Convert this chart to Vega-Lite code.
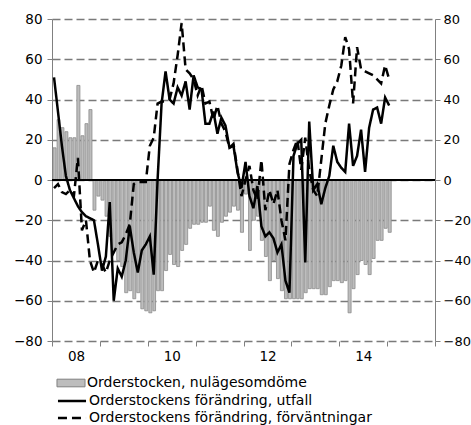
{
  "$schema": "https://vega.github.io/schema/vega-lite/v6.json",
  "width": 383,
  "height": 322,
  "autosize": "none",
  "padding": {"left": 52, "top": 19, "right": 36, "bottom": 84},
  "background": "white",
  "config": {
    "view": {"stroke": null},
    "axis": {"labelFont": "DejaVu Sans", "labelFontSize": 13.5, "labelColor": "black"},
    "legend": {"labelFont": "DejaVu Sans", "labelFontSize": 14, "labelColor": "black", "labelLimit": 0}
  },
  "data": {"values": [
    {"date":"2008-01-01","bar":16,"utfall":51,"forv":-4},
    {"date":"2008-02-01","bar":30,"utfall":34,"forv":-2},
    {"date":"2008-03-01","bar":26,"utfall":17,"forv":-6},
    {"date":"2008-04-01","bar":24,"utfall":2,"forv":-7},
    {"date":"2008-05-01","bar":21,"utfall":-5,"forv":-5},
    {"date":"2008-06-01","bar":21,"utfall":-9,"forv":-8},
    {"date":"2008-07-01","bar":47,"utfall":-13,"forv":11},
    {"date":"2008-08-01","bar":22,"utfall":-16,"forv":-25},
    {"date":"2008-09-01","bar":28,"utfall":-18,"forv":-20},
    {"date":"2008-10-01","bar":35,"utfall":-19,"forv":-40},
    {"date":"2008-11-01","bar":-15,"utfall":-20,"forv":-46},
    {"date":"2008-12-01","bar":-8,"utfall":-32,"forv":-40},
    {"date":"2009-01-01","bar":-10,"utfall":-45,"forv":-42},
    {"date":"2009-02-01","bar":-18,"utfall":-38,"forv":-46},
    {"date":"2009-03-01","bar":-28,"utfall":-11,"forv":-40},
    {"date":"2009-04-01","bar":-35,"utfall":-60,"forv":-36},
    {"date":"2009-05-01","bar":-40,"utfall":-44,"forv":-32},
    {"date":"2009-06-01","bar":-43,"utfall":-48,"forv":-31},
    {"date":"2009-07-01","bar":-56,"utfall":-40,"forv":-27},
    {"date":"2009-08-01","bar":-55,"utfall":-23,"forv":-22},
    {"date":"2009-09-01","bar":-59,"utfall":-36,"forv":-2},
    {"date":"2009-10-01","bar":-56,"utfall":-46,"forv":-1},
    {"date":"2009-11-01","bar":-64,"utfall":-35,"forv":-1},
    {"date":"2009-12-01","bar":-65,"utfall":-32,"forv":-1},
    {"date":"2010-01-01","bar":-66,"utfall":-28,"forv":17},
    {"date":"2010-02-01","bar":-65,"utfall":-47,"forv":21},
    {"date":"2010-03-01","bar":-55,"utfall":0,"forv":38},
    {"date":"2010-04-01","bar":-55,"utfall":38,"forv":39},
    {"date":"2010-05-01","bar":-45,"utfall":54,"forv":39},
    {"date":"2010-06-01","bar":-37,"utfall":40,"forv":40},
    {"date":"2010-07-01","bar":-42,"utfall":38,"forv":48},
    {"date":"2010-08-01","bar":-43,"utfall":46,"forv":62},
    {"date":"2010-09-01","bar":-35,"utfall":42,"forv":78},
    {"date":"2010-10-01","bar":-32,"utfall":49,"forv":55},
    {"date":"2010-11-01","bar":-24,"utfall":35,"forv":53},
    {"date":"2010-12-01","bar":-22,"utfall":52,"forv":50},
    {"date":"2011-01-01","bar":-22,"utfall":46,"forv":42},
    {"date":"2011-02-01","bar":-21,"utfall":45,"forv":47},
    {"date":"2011-03-01","bar":-21,"utfall":28,"forv":38},
    {"date":"2011-04-01","bar":-13,"utfall":28,"forv":39},
    {"date":"2011-05-01","bar":-25,"utfall":34,"forv":30},
    {"date":"2011-06-01","bar":-28,"utfall":23,"forv":37},
    {"date":"2011-07-01","bar":-21,"utfall":31,"forv":28},
    {"date":"2011-08-01","bar":-18,"utfall":27,"forv":24},
    {"date":"2011-09-01","bar":-16,"utfall":16,"forv":16},
    {"date":"2011-10-01","bar":-13,"utfall":17,"forv":18},
    {"date":"2011-11-01","bar":-15,"utfall":4,"forv":5},
    {"date":"2011-12-01","bar":-26,"utfall":-4,"forv":-8},
    {"date":"2012-01-01","bar":-7,"utfall":9,"forv":0},
    {"date":"2012-02-01","bar":-35,"utfall":-8,"forv":7},
    {"date":"2012-03-01","bar":-20,"utfall":-14,"forv":-5},
    {"date":"2012-04-01","bar":-18,"utfall":-3,"forv":-10},
    {"date":"2012-05-01","bar":-30,"utfall":-23,"forv":10},
    {"date":"2012-06-01","bar":-38,"utfall":-28,"forv":-15},
    {"date":"2012-07-01","bar":-50,"utfall":-26,"forv":-5},
    {"date":"2012-08-01","bar":-40,"utfall":-29,"forv":-12},
    {"date":"2012-09-01","bar":-49,"utfall":-36,"forv":-5},
    {"date":"2012-10-01","bar":-55,"utfall":-32,"forv":-20},
    {"date":"2012-11-01","bar":-59,"utfall":-50,"forv":-30},
    {"date":"2012-12-01","bar":-59,"utfall":-56,"forv":8},
    {"date":"2013-01-01","bar":-59,"utfall":12,"forv":15},
    {"date":"2013-02-01","bar":-59,"utfall":18,"forv":20},
    {"date":"2013-03-01","bar":-59,"utfall":20,"forv":5},
    {"date":"2013-04-01","bar":-56,"utfall":-41,"forv":21},
    {"date":"2013-05-01","bar":-54,"utfall":29,"forv":5},
    {"date":"2013-06-01","bar":-54,"utfall":-5,"forv":-5},
    {"date":"2013-07-01","bar":-54,"utfall":-2,"forv":-8},
    {"date":"2013-08-01","bar":-57,"utfall":-12,"forv":10},
    {"date":"2013-09-01","bar":-57,"utfall":-4,"forv":28},
    {"date":"2013-10-01","bar":-53,"utfall":2,"forv":37},
    {"date":"2013-11-01","bar":-50,"utfall":17,"forv":45},
    {"date":"2013-12-01","bar":-50,"utfall":9,"forv":49},
    {"date":"2014-01-01","bar":-51,"utfall":6,"forv":57},
    {"date":"2014-02-01","bar":-50,"utfall":4,"forv":71},
    {"date":"2014-03-01","bar":-66,"utfall":28,"forv":65},
    {"date":"2014-04-01","bar":-54,"utfall":7,"forv":38},
    {"date":"2014-05-01","bar":-47,"utfall":12,"forv":66},
    {"date":"2014-06-01","bar":-40,"utfall":25,"forv":55},
    {"date":"2014-07-01","bar":-42,"utfall":4,"forv":54},
    {"date":"2014-08-01","bar":-47,"utfall":26,"forv":53},
    {"date":"2014-09-01","bar":-39,"utfall":35,"forv":52},
    {"date":"2014-10-01","bar":-30,"utfall":36,"forv":50},
    {"date":"2014-11-01","bar":-30,"utfall":28,"forv":48},
    {"date":"2014-12-01","bar":-24,"utfall":41,"forv":57},
    {"date":"2015-01-01","bar":-26,"utfall":37,"forv":50}
  ]},
  "resolve": {"axis": {"y": "independent"}},
  "layer": [
    {
      "mark": {"type": "bar", "stroke": "#8c8c8c", "strokeWidth": 0.8},
      "encoding": {
        "x": {
          "field": "date", "timeUnit": "utcyearmonth", "type": "temporal", "title": null,
          "scale": {"domain": [{"year": 2008, "month": 1, "date": 1, "utc": true}, {"year": 2016, "month": 1, "date": 1, "utc": true}]},
          "axis": {
            "tickCount": {"interval": "year", "step": 1},
            "format": "%y",
            "labelExpr": "utcyear(datum.value) % 2 == 0 && utcyear(datum.value) < 2016 ? datum.label : ''",
            "labelOffset": 24, "labelOverlap": false, "labelFlush": false, "labelPadding": 3,
            "tickSize": 5, "tickColor": "#808080", "domain": false, "grid": false
          }
        },
        "y": {
          "field": "bar", "type": "quantitative", "title": null,
          "scale": {"domain": [-80, 80], "nice": false},
          "axis": {
            "orient": "left", "values": [-80, -60, -40, -20, 0, 20, 40, 60, 80],
            "grid": true, "gridDash": [8, 4], "gridColor": "#7a7a7a", "gridWidth": 1.6,
            "domainColor": "#808080", "tickColor": "#808080", "tickSize": 5, "labelPadding": 5
          }
        },
        "fill": {
          "datum": "Orderstocken, nulägesomdöme",
          "scale": {"range": ["#bdbdbd"]},
          "legend": {
            "orient": "none", "legendX": 10, "legendY": 355, "title": null, "padding": 0,
            "symbolType": "M-1.65,-0.45H1.65V0.45H-1.65Z", "symbolSize": 289,
            "symbolStrokeColor": "#808080", "symbolStrokeWidth": 1, "labelOffset": 7
          }
        }
      }
    },
    {
      "mark": {"type": "rule", "color": "black", "strokeWidth": 1.5},
      "encoding": {
        "y": {
          "datum": 0, "type": "quantitative",
          "axis": {
            "orient": "right", "values": [-80, -60, -40, -20, 0, 20, 40, 60, 80], "grid": false,
            "domainColor": "#808080", "tickColor": "#808080", "tickSize": 5, "labelPadding": 3,
            "labelFontSize": 13
          }
        }
      }
    },
    {
      "mark": {"type": "line", "color": "black", "strokeWidth": 2.5},
      "encoding": {
        "x": {"field": "date", "timeUnit": "utcyearmonth", "type": "temporal", "bandPosition": 0.5},
        "y": {"field": "utfall", "type": "quantitative", "axis": null},
        "strokeDash": {
          "datum": "Orderstockens förändring, utfall",
          "scale": {"domain": ["Orderstockens förändring, utfall", "Orderstockens förändring, förväntningar"], "range": [[1, 0], [9, 5]]},
          "legend": {
            "orient": "none", "legendX": 10, "legendY": 372, "title": null, "padding": 0,
            "symbolType": "M-1.65,0H1.65", "symbolSize": 289, "symbolStrokeColor": "black",
            "symbolStrokeWidth": 2.5, "rowPadding": 0, "labelOffset": 7
          }
        }
      }
    },
    {
      "mark": {"type": "line", "color": "black", "strokeWidth": 2.5},
      "encoding": {
        "x": {"field": "date", "timeUnit": "utcyearmonth", "type": "temporal", "bandPosition": 0.5},
        "y": {"field": "forv", "type": "quantitative", "axis": null},
        "strokeDash": {"datum": "Orderstockens förändring, förväntningar"}
      }
    }
  ]
}
